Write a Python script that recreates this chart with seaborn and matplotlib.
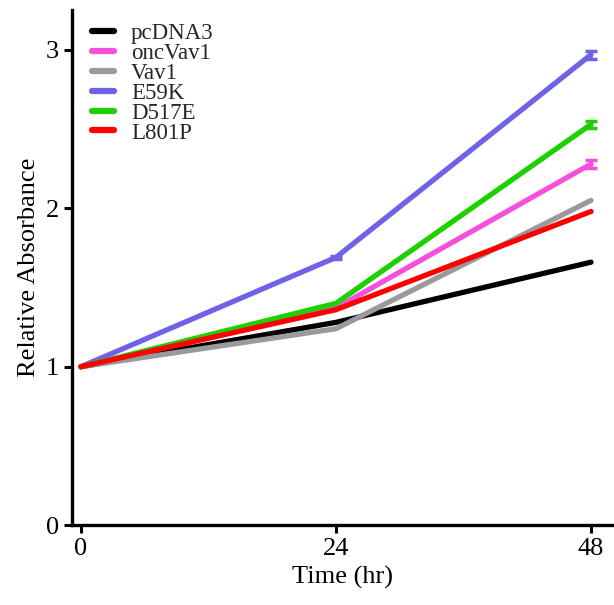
import matplotlib
matplotlib.use("Agg")
import matplotlib.pyplot as plt
import seaborn as sns
import pandas as pd
import numpy as np

times = [0, 24, 48]
series_names = ["pcDNA3", "oncVav1", "Vav1", "E59K", "D517E", "L801P"]
pcDNA3 = [1.0, 1.28, 1.66]
oncVav1 = [1.0, 1.37, 2.28]
Vav1 = [1.0, 1.24, 2.05]
E59K = [1.0, 1.69, 2.97]
D517E = [1.0, 1.40, 2.53]
L801P = [1.0, 1.36, 1.98]
err_pcDNA3 = [0.0, 0.0, 0.0]
err_oncVav1 = [0.0, 0.0, 0.025]
err_Vav1 = [0.0, 0.0, 0.0]
err_E59K = [0.0, 0.012, 0.025]
err_D517E = [0.0, 0.0, 0.02]
err_L801P = [0.0, 0.0, 0.0]
colors = ["#000000", "#F550DC", "#9A9A9C", "#6F62E6", "#1ED000", "#FF0000"]

values = [pcDNA3, oncVav1, Vav1, E59K, D517E, L801P]
errs = [err_pcDNA3, err_oncVav1, err_Vav1, err_E59K, err_D517E, err_L801P]

rows = []
for name, vals in zip(series_names, values):
    for t, v in zip(times, vals):
        rows.append({"Time": t, "Value": v, "Series": name})
df = pd.DataFrame(rows)

sns.set_theme(style="ticks")
plt.rcParams["font.family"] = ["Liberation Serif", "DejaVu Serif"]

fig = plt.figure(figsize=(6.14, 6.05), dpi=100)
ax = fig.add_axes([0.117, 0.132, 0.883, 0.851])

for vals, err, c in zip(values, errs, colors):
    tx = [t for t, e in zip(times, err) if e > 0]
    ty = [v for v, e in zip(vals, err) if e > 0]
    te = [e for e in err if e > 0]
    if tx:
        ax.errorbar(tx, ty, yerr=te, fmt="none", ecolor=c, elinewidth=2,
                    capsize=4.5, capthick=2.5, zorder=2)

sns.lineplot(data=df, x="Time", y="Value", hue="Series", hue_order=series_names,
             palette=colors, linewidth=3.8, ax=ax, zorder=3)

ax.set_xlim(-0.85, 50.16)
ax.set_ylim(0, 3.25)
ax.set_xticks(times)
ax.set_yticks([0, 1, 2, 3])
ax.tick_params(axis="both", labelsize=19, width=2.2, length=6, color="black", labelcolor="black")
for s in ["left", "bottom"]:
    ax.spines[s].set_linewidth(2.4)
    ax.spines[s].set_color("black")
ax.spines["right"].set_visible(False)
ax.spines["top"].set_visible(False)
ax.set_xlabel("Time (hr)", fontsize=19, color="black")
ax.set_ylabel("Relative Absorbance", fontsize=19, color="black")

leg = ax.legend(loc="upper left", frameon=False, fontsize=16.5, handlelength=0.95,
                labelspacing=-0.05, handletextpad=0.75, borderpad=0, borderaxespad=0,
                bbox_to_anchor=(92 / 614, 1 - 23 / 605), bbox_transform=fig.transFigure)
for line in leg.get_lines():
    line.set_linewidth(4.5)
    line.set_solid_capstyle("round")

fig.savefig("out.png", dpi=100)
